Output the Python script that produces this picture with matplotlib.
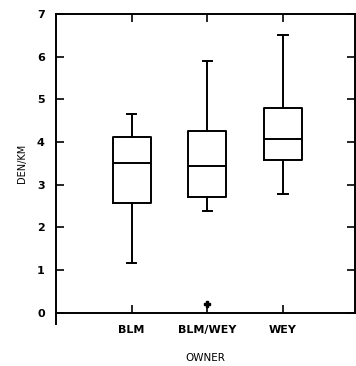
import matplotlib
matplotlib.use("Agg")
import matplotlib.pyplot as plt

owners = ["BLM", "BLM/WEY", "WEY"]
q1 = [2.57, 2.71, 3.57]
med = [3.51, 3.44, 4.07]
q3 = [4.12, 4.25, 4.80]
whislo = [1.18, 2.38, 2.79]
whishi = [4.66, 5.90, 6.51]
fliers = [[], [0.21], []]

stats = []
for i, name in enumerate(owners):
    stats.append({"label": name, "q1": q1[i], "med": med[i], "q3": q3[i],
                  "whislo": whislo[i], "whishi": whishi[i], "fliers": fliers[i]})

fig = plt.figure(figsize=(3.56, 3.66), dpi=100)
ax = fig.add_axes([0.157, 0.145, 0.84, 0.817])

lw = 1.4
ax.bxp(stats, positions=[1, 2, 3], widths=0.5,
       boxprops=dict(color="black", linewidth=lw),
       medianprops=dict(color="black", linewidth=lw),
       whiskerprops=dict(color="black", linewidth=lw),
       capprops=dict(color="black", linewidth=lw),
       flierprops=dict(marker="P", markersize=5, markerfacecolor="black",
                       markeredgecolor="black"),
       capwidths=0.12)

ax.set_xlim(0, 3.95)
ax.set_ylim(0, 7)
ax.set_yticks(range(8))
ax.set_xticks([1, 2, 3])
ax.set_xticklabels(owners)

for s in ax.spines.values():
    s.set_linewidth(1.4)
ax.spines["left"].set_bounds(-0.27, 7)

ax.tick_params(direction="in", length=6, width=1.2, labelsize=8,
               top=True, right=True)
ax.tick_params(axis="x", pad=9)
ax.tick_params(axis="y", pad=8)
for lab in ax.get_xticklabels() + ax.get_yticklabels():
    lab.set_fontweight("bold")
ax.set_xlabel("OWNER", fontsize=7.5, labelpad=13)
ax.set_ylabel("DEN/KM", fontsize=7, labelpad=7)

fig.savefig("out.png", dpi=100)
